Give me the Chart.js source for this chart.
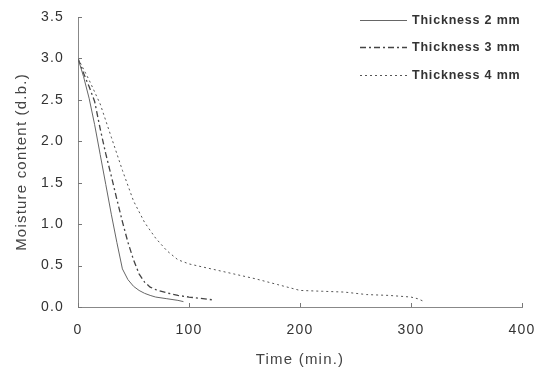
<!DOCTYPE html>
<html>
<head>
<meta charset="utf-8">
<script src="https://cdn.jsdelivr.net/npm/chart.js@4"></script>
<style>
  html, body { margin: 0; padding: 0; background: #fff; }
  #wrap { width: 542px; height: 379px; }
</style>
</head>
<body>
<div id="wrap"><canvas id="c" width="542" height="379"></canvas></div>
<script>
// drying curves, moisture content (d.b.) vs time (min.)
const seriesLabels = ["Thickness 2 mm", "Thickness 3 mm", "Thickness 4 mm"];

const time2mm = [0, 5, 10, 15, 20, 25, 30, 35, 40, 45, 50, 55, 60, 65, 70, 80, 90, 95];
const mc2mm   = [3.0, 2.78, 2.52, 2.2, 1.84, 1.48, 1.12, 0.78, 0.46, 0.33, 0.25, 0.2, 0.165, 0.14, 0.12, 0.1, 0.08, 0.065];

const time3mm = [0, 5, 10, 15, 20, 25, 30, 35, 40, 45, 50, 55, 60, 65, 70, 80, 90, 100, 110, 122];
const mc3mm   = [3.0, 2.82, 2.66, 2.48, 2.15, 1.85, 1.58, 1.3, 1.03, 0.78, 0.57, 0.4, 0.3, 0.24, 0.21, 0.17, 0.14, 0.12, 0.105, 0.085];

const time4mm = [0, 5, 10, 20, 30, 40, 50, 60, 70, 80, 90, 100, 120, 140, 160, 180, 200, 220, 240, 260, 280, 300, 306, 312];
const mc4mm   = [3.0, 2.87, 2.74, 2.45, 2.05, 1.65, 1.28, 1.02, 0.83, 0.68, 0.57, 0.52, 0.46, 0.4, 0.34, 0.27, 0.2, 0.19, 0.18, 0.15, 0.14, 0.12, 0.1, 0.065];

const xTicks = [0, 100, 200, 300, 400];
const yTicks = [0, 0.5, 1.0, 1.5, 2.0, 2.5, 3.0, 3.5];

const pts = (xs, ys) => xs.map((x, i) => ({ x: x, y: ys[i] }));

const FONT = "'Liberation Sans', Arial, sans-serif";

// small inward tick marks on both axes
const innerTicks = {
  id: "innerTicks",
  afterDraw(chart) {
    const { ctx, chartArea, scales } = chart;
    ctx.save();
    ctx.strokeStyle = "#777";
    ctx.lineWidth = 1;
    ctx.beginPath();
    for (const v of xTicks) {
      const x = Math.round(scales.x.getPixelForValue(v)) + 0.5;
      ctx.moveTo(x, chartArea.bottom);
      ctx.lineTo(x, chartArea.bottom - 4);
    }
    for (const v of yTicks) {
      const y = Math.round(scales.y.getPixelForValue(v)) + 0.5;
      ctx.moveTo(chartArea.left, y);
      ctx.lineTo(chartArea.left + 4, y);
    }
    ctx.stroke();
    ctx.restore();
  }
};

// legend in the top right corner, drawn from the datasets
const cornerLegend = {
  id: "cornerLegend",
  afterDraw(chart) {
    const ctx = chart.ctx;
    const rows = [20, 47, 75];
    ctx.save();
    chart.data.datasets.forEach((ds, i) => {
      const y = rows[i] + 0.5;
      ctx.strokeStyle = ds.borderColor;
      ctx.lineWidth = ds.borderWidth;
      ctx.setLineDash(ds.borderDash || []);
      ctx.beginPath();
      ctx.moveTo(360, y);
      ctx.lineTo(407, y);
      ctx.stroke();
      ctx.setLineDash([]);
      ctx.letterSpacing = "0.8px";
      ctx.fillStyle = "#333";
      ctx.font = "bold 12.5px " + FONT;
      ctx.textAlign = "left";
      ctx.textBaseline = "middle";
      ctx.fillText(ds.label, 412, rows[i] + 1);
    });
    ctx.restore();
  }
};

const spacing = {
  id: "spacing",
  beforeDraw(chart) { chart.ctx.letterSpacing = "1.2px"; }
};

new Chart(document.getElementById("c"), {
  type: "line",
  data: {
    datasets: [
      { label: seriesLabels[0], data: pts(time2mm, mc2mm), borderColor: "#666", borderWidth: 1, borderDash: [] },
      { label: seriesLabels[1], data: pts(time3mm, mc3mm), borderColor: "#444", borderWidth: 1.3, borderDash: [6, 3, 2, 3] },
      { label: seriesLabels[2], data: pts(time4mm, mc4mm), borderColor: "#555", borderWidth: 1, borderDash: [2, 3] },
    ],
  },
  options: {
    responsive: false,
    animation: false,
    parsing: false,
    elements: { point: { radius: 0 }, line: { tension: 0 } },
    layout: { padding: { left: 0, right: 20, top: 17, bottom: 0 } },
    plugins: { legend: { display: false }, tooltip: { enabled: false } },
    scales: {
      x: {
        type: "linear",
        min: 0, max: 400,
        afterBuildTicks: s => { s.ticks = xTicks.map(v => ({ value: v })); },
        afterFit: s => { s.height = 72; s.paddingLeft = 0; s.paddingRight = 0; },
        grid: { display: false, drawTicks: false },
        border: { display: true, color: "#888", width: 1 },
        ticks: { padding: 15, color: "#333", font: { family: FONT, size: 14 }, maxRotation: 0 },
        title: { display: true, text: "Time (min.)", color: "#444", font: { family: FONT, size: 15 }, padding: { bottom: 10 } },
      },
      y: {
        type: "linear",
        min: 0, max: 3.5,
        afterBuildTicks: s => { s.ticks = yTicks.map(v => ({ value: v })); },
        afterFit: s => { s.width = 78; s.paddingTop = 0; s.paddingBottom = 0; },
        grid: { display: false, drawTicks: false },
        border: { display: true, color: "#888", width: 1 },
        ticks: { padding: 14, color: "#333", font: { family: FONT, size: 14 }, callback: v => Number(v).toFixed(1) },
        title: { display: true, text: "Moisture content (d.b.)", color: "#444", font: { family: FONT, size: 15 }, padding: { top: 13 } },
      },
    },
  },
  plugins: [spacing, innerTicks, cornerLegend],
});
</script>
</body>
</html>
